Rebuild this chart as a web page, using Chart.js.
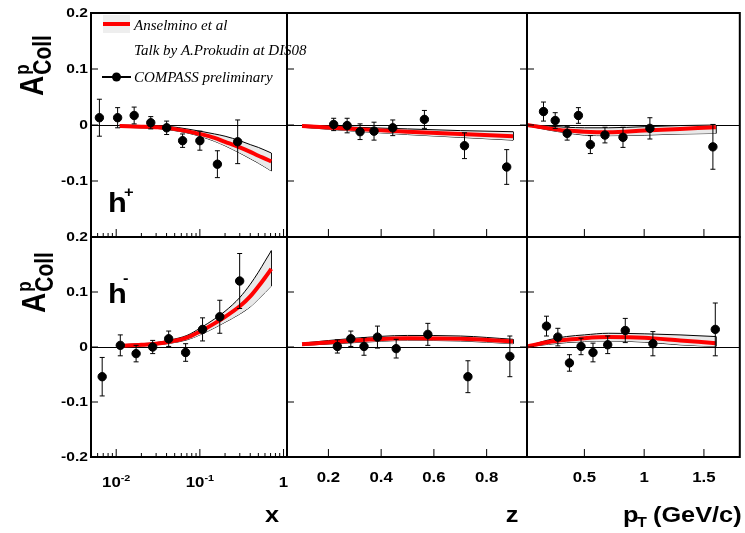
<!DOCTYPE html>
<html lang="en">
<head>
<meta charset="UTF-8">
<title>Collins asymmetry on proton</title>
<script src="https://cdn.jsdelivr.net/npm/chart.js"></script>
<style>
  body { margin: 0; background: #fff; }
  #wrap { position: relative; width: 745px; height: 533px; overflow: hidden; }
  #wrap canvas { position: absolute; left: 0; top: 0; }
</style>
</head>
<body>
<div id="wrap">
  <canvas id="c1" width="745" height="533"></canvas>
  <canvas id="c2" width="745" height="533"></canvas>
  <canvas id="c3" width="745" height="533"></canvas>
  <canvas id="c4" width="745" height="533"></canvas>
  <canvas id="c5" width="745" height="533"></canvas>
  <canvas id="c6" width="745" height="533"></canvas>
</div>
<script>
// tick labels
const yTicks = [0.2, 0.1, 0, -0.1, -0.2];
const xLogTicks = [0.01, 0.1, 1];
const zTicks = [0.2, 0.4, 0.6, 0.8];
const ptTicks = [0.5, 1, 1.5];

// COMPASS points, h+
const xPlusX = [0.0063, 0.0104, 0.0164, 0.0259, 0.0401, 0.0622, 0.100, 0.162, 0.283];
const xPlusA = [0.013, 0.013, 0.017, 0.004, -0.005, -0.028, -0.028, -0.070, -0.030];
const xPlusE = [0.033, 0.018, 0.015, 0.011, 0.012, 0.012, 0.017, 0.024, 0.039];
const zPlusZ = [0.220, 0.271, 0.320, 0.373, 0.444, 0.564, 0.716, 0.876];
const zPlusA = [0.001, -0.001, -0.012, -0.011, -0.005, 0.010, -0.037, -0.075];
const zPlusE = [0.011, 0.013, 0.014, 0.016, 0.014, 0.016, 0.023, 0.031];
const ptPlusP = [0.158, 0.256, 0.356, 0.450, 0.550, 0.672, 0.823, 1.048, 1.575];
const ptPlusA = [0.024, 0.008, -0.015, 0.017, -0.035, -0.018, -0.022, -0.006, -0.039];
const ptPlusE = [0.017, 0.014, 0.012, 0.014, 0.016, 0.014, 0.018, 0.019, 0.040];

// COMPASS points, h-
const xMinusX = [0.0068, 0.0112, 0.0173, 0.0273, 0.0424, 0.0676, 0.1077, 0.173, 0.299];
const xMinusA = [-0.054, 0.003, -0.012, 0.000, 0.015, -0.010, 0.032, 0.055, 0.120];
const xMinusE = [0.035, 0.019, 0.015, 0.012, 0.014, 0.016, 0.021, 0.030, 0.050];
const zMinusZ = [0.234, 0.285, 0.335, 0.386, 0.457, 0.577, 0.729, 0.888];
const zMinusA = [0.001, 0.015, 0.001, 0.018, -0.003, 0.023, -0.054, -0.017];
const zMinusE = [0.012, 0.014, 0.016, 0.020, 0.017, 0.020, 0.029, 0.037];
const ptMinusP = [0.183, 0.278, 0.375, 0.472, 0.572, 0.695, 0.842, 1.073, 1.595];
const ptMinusA = [0.038, 0.018, -0.029, 0.001, -0.010, 0.004, 0.030, 0.006, 0.032];
const ptMinusE = [0.018, 0.016, 0.015, 0.015, 0.017, 0.016, 0.022, 0.022, 0.048];

// Anselmino et al. prediction bands (centre, upper, lower)
const bandX = [0.011, 0.02, 0.03, 0.045, 0.07, 0.1, 0.15, 0.2, 0.3, 0.4, 0.5, 0.6, 0.714];
const xPlusMid = [-0.002, -0.003, -0.004, -0.006, -0.011, -0.016, -0.023, -0.030, -0.040, -0.048, -0.055, -0.060, -0.065];
const xPlusHi = [0.000, -0.001, -0.002, -0.003, -0.007, -0.011, -0.016, -0.020, -0.028, -0.035, -0.040, -0.045, -0.050];
const xPlusLo = [-0.004, -0.005, -0.006, -0.009, -0.014, -0.020, -0.029, -0.037, -0.050, -0.060, -0.068, -0.075, -0.082];
const xMinusMid = [0.002, 0.004, 0.006, 0.010, 0.017, 0.028, 0.043, 0.055, 0.074, 0.092, 0.110, 0.126, 0.142];
const xMinusHi = [0.004, 0.006, 0.008, 0.013, 0.021, 0.034, 0.051, 0.065, 0.090, 0.114, 0.136, 0.156, 0.175];
const xMinusLo = [0.000, 0.002, 0.004, 0.007, 0.013, 0.022, 0.035, 0.045, 0.060, 0.073, 0.087, 0.099, 0.111];

const bandZ = [0.1, 0.3, 0.5, 0.7, 0.9];
const zPlusMid = [-0.002, -0.007, -0.012, -0.016, -0.020];
const zPlusHi = [0.000, -0.004, -0.007, -0.010, -0.012];
const zPlusLo = [-0.004, -0.011, -0.017, -0.022, -0.027];
const zMinusMid = [0.005, 0.012, 0.016, 0.015, 0.010];
const zMinusHi = [0.007, 0.016, 0.021, 0.020, 0.014];
const zMinusLo = [0.003, 0.008, 0.012, 0.011, 0.006];

const bandPt = [0.02, 0.2, 0.35, 0.5, 0.7, 1.0, 1.3, 1.6];
const ptPlusMid = [0.000, -0.006, -0.010, -0.012, -0.013, -0.010, -0.007, -0.004];
const ptPlusHi = [0.001, -0.002, -0.004, -0.005, -0.005, -0.003, -0.001, 0.000];
const ptPlusLo = [-0.001, -0.009, -0.014, -0.018, -0.019, -0.018, -0.016, -0.015];
const ptMinusMid = [0.001, 0.009, 0.013, 0.016, 0.018, 0.017, 0.012, 0.007];
const ptMinusHi = [0.001, 0.013, 0.019, 0.022, 0.025, 0.024, 0.022, 0.019];
const ptMinusLo = [0.000, 0.005, 0.008, 0.010, 0.011, 0.009, 0.004, 0.001];

const SANS = "'Liberation Sans', Arial, sans-serif";
const SERIF = "'Liberation Serif', 'Times New Roman', serif";

// frames: [left, top, right, bottom]
const panels = [
  { id: 'c1', box: [91, 13, 287, 237], log: true, xr: [0.005, 1.1], ticks: xLogTicks,
    bx: bandX, mid: xPlusMid, hi: xPlusHi, lo: xPlusLo, px: xPlusX, py: xPlusA, pe: xPlusE,
    yLabels: [0.2, 0.1, 0, -0.1], xLabels: false, rightTicks: false, extra: 'topLeft' },
  { id: 'c2', box: [287, 13, 527, 237], log: false, xr: [0.043, 0.953], ticks: zTicks,
    bx: bandZ, mid: zPlusMid, hi: zPlusHi, lo: zPlusLo, px: zPlusZ, py: zPlusA, pe: zPlusE,
    yLabels: null, xLabels: false, rightTicks: true },
  { id: 'c3', box: [527, 13, 740, 237], log: false, xr: [0.02, 1.8], ticks: ptTicks,
    bx: bandPt, mid: ptPlusMid, hi: ptPlusHi, lo: ptPlusLo, px: ptPlusP, py: ptPlusA, pe: ptPlusE,
    yLabels: null, xLabels: false, rightTicks: false },
  { id: 'c4', box: [91, 237, 287, 457], log: true, xr: [0.005, 1.1], ticks: xLogTicks,
    bx: bandX, mid: xMinusMid, hi: xMinusHi, lo: xMinusLo, px: xMinusX, py: xMinusA, pe: xMinusE,
    yLabels: yTicks, xLabels: true, rightTicks: false, extra: 'bottomLeft', title: 'x' },
  { id: 'c5', box: [287, 237, 527, 457], log: false, xr: [0.043, 0.953], ticks: zTicks,
    bx: bandZ, mid: zMinusMid, hi: zMinusHi, lo: zMinusLo, px: zMinusZ, py: zMinusA, pe: zMinusE,
    yLabels: null, xLabels: true, rightTicks: true, title: 'z' },
  { id: 'c6', box: [527, 237, 740, 457], log: false, xr: [0.02, 1.8], ticks: ptTicks,
    bx: bandPt, mid: ptMinusMid, hi: ptMinusHi, lo: ptMinusLo, px: ptMinusP, py: ptMinusA, pe: ptMinusE,
    yLabels: null, xLabels: true, rightTicks: false, title: 'pt' }
];

// text squeezed like the ROOT output (a little wider than tall)
function text(ctx, str, x, y, font, align, sx, baseline) {
  ctx.save();
  ctx.font = font;
  ctx.textAlign = align || 'left';
  ctx.textBaseline = baseline || 'alphabetic';
  ctx.translate(x, y);
  ctx.scale(sx || 1, 1);
  ctx.fillStyle = '#000';
  ctx.fillText(str, 0, 0);
  ctx.restore();
}

function line(ctx, x1, y1, x2, y2) {
  ctx.beginPath();
  ctx.moveTo(x1, y1);
  ctx.lineTo(x2, y2);
  ctx.stroke();
}

function yTitle(ctx, x, y) {
  // A^{p}_{Coll}, rotated
  ctx.save();
  ctx.translate(x, y);
  ctx.rotate(-Math.PI / 2);
  ctx.scale(1, 1.2);
  ctx.fillStyle = '#000';
  ctx.font = '700 28px ' + SANS;
  ctx.fillText('A', 0, 0);
  const w = ctx.measureText('A').width + 1;
  ctx.font = '700 21px ' + SANS;
  ctx.fillText('Coll', w, 6.5);
  ctx.font = '700 17px ' + SANS;
  ctx.fillText('p', w, -12);
  ctx.restore();
}

function legend(ctx) {
  ctx.save();
  ctx.fillStyle = '#eeeeee';
  ctx.fillRect(103, 15, 27, 18);
  ctx.strokeStyle = '#ff0000';
  ctx.lineWidth = 4;
  line(ctx, 103, 24, 130, 24);
  ctx.strokeStyle = '#000';
  ctx.lineWidth = 2;
  line(ctx, 102, 77, 131, 77);
  ctx.beginPath();
  ctx.arc(116.5, 77, 4.5, 0, Math.PI * 2);
  ctx.fillStyle = '#000';
  ctx.fill();
  ctx.restore();
  const f = 'italic 15px ' + SERIF;
  text(ctx, 'Anselmino et al', 134, 30, f);
  text(ctx, 'Talk by A.Prokudin at DIS08', 134, 55, f);
  text(ctx, 'COMPASS preliminary', 134, 82, f);
}

function makePlugin(p) {
  return {
    id: 'rootStyle',
    beforeDatasetsDraw(chart) {
      const ctx = chart.ctx, a = chart.chartArea, ys = chart.scales.y;
      ctx.save();
      ctx.strokeStyle = '#000';
      ctx.lineWidth = 1;
      const y0 = Math.round(ys.getPixelForValue(0)) + 0.5;
      line(ctx, a.left, y0, a.right, y0);
      ctx.restore();
    },
    afterDatasetsDraw(chart) {
      const ctx = chart.ctx, a = chart.chartArea;
      const xs = chart.scales.x, ys = chart.scales.y;
      ctx.save();
      ctx.strokeStyle = '#000';
      ctx.lineWidth = 1;

      // error bars
      chart.getDatasetMeta(0).data.forEach((el, i) => {
        const t = ys.getPixelForValue(p.py[i] + p.pe[i]);
        const b = ys.getPixelForValue(p.py[i] - p.pe[i]);
        line(ctx, el.x, t, el.x, b);
        line(ctx, el.x - 2.5, t, el.x + 2.5, t);
        line(ctx, el.x - 2.5, b, el.x + 2.5, b);
      });

      // inward ticks
      yTicks.forEach(v => {
        const y = ys.getPixelForValue(v);
        line(ctx, a.left, y, a.left + 7, y);
        if (p.rightTicks) line(ctx, a.right - 7, y, a.right, y);
      });
      p.ticks.forEach(v => {
        const x = xs.getPixelForValue(v);
        line(ctx, x, a.bottom, x, a.bottom - 8);
      });
      if (p.log) {
        [0.001, 0.01, 0.1].forEach(d => {
          for (let k = 2; k <= 9; k++) {
            const v = k * d;
            if (v < p.xr[0] || v > p.xr[1]) continue;
            const x = xs.getPixelForValue(v);
            line(ctx, x, a.bottom, x, a.bottom - 4);
          }
        });
      }

      // frame
      ctx.lineWidth = 2;
      ctx.strokeRect(a.left, a.top, a.right - a.left, a.bottom - a.top);
      ctx.restore();

      // tick labels
      if (p.yLabels) {
        p.yLabels.forEach(v => {
          const s = v === 0 ? '0' : v.toFixed(1);
          text(ctx, s, a.left - 3, ys.getPixelForValue(v), '700 13px ' + SANS, 'right', 1.2, 'middle');
        });
      }
      if (p.xLabels) {
        p.ticks.forEach(v => {
          const x = xs.getPixelForValue(v);
          if (p.log) {
            const e = Math.round(Math.log10(v));
            if (e === 0) {
              text(ctx, '1', x, 487, '700 14px ' + SANS, 'center', 1.2);
            } else {
              ctx.save();
              ctx.font = '700 14px ' + SANS;
              const w1 = ctx.measureText('10').width * 1.2;
              ctx.font = '700 9px ' + SANS;
              const w2 = ctx.measureText(String(e)).width * 1.2;
              ctx.restore();
              const x0 = x - (w1 + w2) / 2;
              text(ctx, '10', x0, 487, '700 14px ' + SANS, 'left', 1.2);
              text(ctx, String(e), x0 + w1, 481, '700 9px ' + SANS, 'left', 1.2);
            }
          } else {
            text(ctx, String(v), x, 482, '700 14px ' + SANS, 'center', 1.2);
          }
        });
      }

      // axis titles
      const tf = '700 22px ' + SANS;
      if (p.title === 'x') text(ctx, 'x', 272, 522, tf, 'center', 1.15);
      if (p.title === 'z') text(ctx, 'z', 512, 522, tf, 'center', 1.15);
      if (p.title === 'pt') {
        text(ctx, 'p', 623, 522, tf, 'left', 1.15);
        text(ctx, 'T', 637, 527, '700 14px ' + SANS, 'left', 1.15);
        text(ctx, '(GeV/c)', 653, 522, tf, 'left', 1.15);
      }

      // panel decorations
      if (p.extra === 'topLeft') {
        legend(ctx);
        yTitle(ctx, 43, 96);
        text(ctx, 'h', 108, 212, '700 28px ' + SANS, 'left', 1.1);
        text(ctx, '+', 124, 197, '700 15px ' + SANS, 'left', 1.1);
      }
      if (p.extra === 'bottomLeft') {
        yTitle(ctx, 45, 313);
        text(ctx, 'h', 108, 303, '700 28px ' + SANS, 'left', 1.1);
        text(ctx, '-', 123, 283, '700 15px ' + SANS, 'left', 1.1);
      }
    }
  };
}

function pts(xs, ys) {
  return xs.map((x, i) => ({ x: x, y: ys[i] }));
}

panels.forEach(p => {
  const last = p.bx.length - 1;
  new Chart(document.getElementById(p.id), {
    type: 'line',
    data: {
      datasets: [
        { type: 'scatter', data: pts(p.px, p.py), showLine: false, pointRadius: 4.2,
          pointBackgroundColor: '#000', pointBorderColor: '#000', order: 0 },
        { data: pts(p.bx, p.mid), borderColor: '#ff0000', borderWidth: 4, pointRadius: 0,
          cubicInterpolationMode: 'monotone', order: 1 },
        { data: pts(p.bx, p.hi), borderColor: '#000', borderWidth: 1, pointRadius: 0,
          fill: '+1', backgroundColor: '#e9e9e9', cubicInterpolationMode: 'monotone', order: 2 },
        { data: pts(p.bx, p.lo), borderColor: '#000', borderWidth: 1, pointRadius: 0,
          cubicInterpolationMode: 'monotone', order: 3 },
        { data: [{ x: p.bx[last], y: p.hi[last] }, { x: p.bx[last], y: p.lo[last] }],
          borderColor: '#000', borderWidth: 1, pointRadius: 0, order: 2 }
      ]
    },
    options: {
      responsive: false,
      animation: false,
      devicePixelRatio: 1,
      layout: { padding: { left: p.box[0], top: p.box[1], right: 745 - p.box[2], bottom: 533 - p.box[3] } },
      scales: {
        x: { type: p.log ? 'logarithmic' : 'linear', min: p.xr[0], max: p.xr[1], display: false },
        y: { type: 'linear', min: -0.2, max: 0.2, display: false }
      },
      plugins: { legend: { display: false }, tooltip: { enabled: false } }
    },
    plugins: [makePlugin(p)]
  });
});
</script>
</body>
</html>
